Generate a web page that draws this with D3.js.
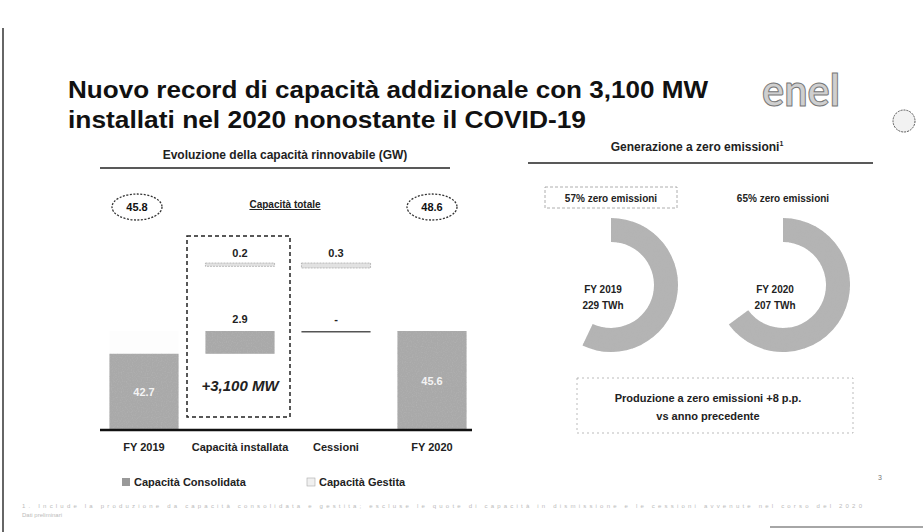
<!DOCTYPE html>
<html>
<head>
<meta charset="utf-8">
<script src="https://cdn.jsdelivr.net/npm/d3@7"></script>
<style>
  body { margin: 0; background: #fff; }
  svg { display: block; font-family: "Liberation Sans", Arial, sans-serif; }
</style>
</head>
<body>
<div id="slide"></div>
<script>
// ---- data ----
var steps = ["FY 2019", "Capacità installata", "Cessioni", "FY 2020"];
var consolidata = [42.7, 2.9, 0, 45.6];     // GW, waterfall on consolidated capacity
var gestita = [3.1, 0.2, -0.3, 3.0];        // GW, managed capacity
var totals = [45.8, 48.6];                  // total capacity FY 2019 / FY 2020
var genYears = ["FY 2019", "FY 2020"];
var genTwh = [229, 207];
var zeroShare = [57, 65];                   // % zero emission
var legendItems = ["Capacità Consolidata", "Capacità Gestita"];

var width = 923, height = 532;

var svg = d3.select("#slide").append("svg")
    .attr("width", width)
    .attr("height", height);

// scanner grain for the grey fills
var defs = svg.append("defs");
var f = defs.append("filter").attr("id", "grain").attr("x", 0).attr("y", 0).attr("width", 1).attr("height", 1);
f.append("feTurbulence").attr("type", "fractalNoise").attr("baseFrequency", 0.8).attr("numOctaves", 1).attr("result", "n");
f.append("feColorMatrix").attr("in", "n").attr("type", "matrix")
    .attr("values", "0 0 0 0 0.45  0 0 0 0 0.45  0 0 0 0 0.45  0 0 0 -2 1.1").attr("result", "g");
f.append("feComposite").attr("in", "g").attr("in2", "SourceGraphic").attr("operator", "in").attr("result", "gc");
f.append("feMerge").call(function (m) {
    m.append("feMergeNode").attr("in", "SourceGraphic");
    m.append("feMergeNode").attr("in", "gc");
});

/* ****** frame ****** */
svg.append("line").attr("x1", 3).attr("x2", 3).attr("y1", 28).attr("y2", 532)
    .attr("stroke", "#333").attr("stroke-width", 1.5);
svg.append("line").attr("x1", 770).attr("x2", 923).attr("y1", 527).attr("y2", 527)
    .attr("stroke", "#888").attr("stroke-width", 1.5);

/* ****** title ****** */
var title = ["Nuovo record di capacità addizionale con 3,100 MW",
             "installati nel 2020 nonostante il COVID-19"];
var titleLen = [640, 518];
title.forEach(function (t, i) {
    svg.append("text")
        .attr("x", 68).attr("y", 98 + i * 30)
        .attr("font-size", 23).attr("font-weight", "bold").attr("fill", "#111")
        .attr("textLength", titleLen[i]).attr("lengthAdjust", "spacingAndGlyphs")
        .text(t);
});

// enel logo + stamp
svg.append("text").attr("x", 762).attr("y", 106)
    .attr("font-size", 44).attr("font-family", "Lato, sans-serif").attr("font-weight", "bold")
    .attr("fill", "#cfcfcf").attr("stroke", "#777").attr("stroke-width", 1)
    .attr("textLength", 78).attr("lengthAdjust", "spacingAndGlyphs")
    .text("enel");
svg.append("circle").attr("cx", 904).attr("cy", 121).attr("r", 11)
    .attr("fill", "#f2f2f2").attr("stroke", "#555").attr("stroke-dasharray", "2,1");

/* ****** section headers ****** */
svg.append("text").attr("x", 285).attr("y", 159).attr("text-anchor", "middle")
    .attr("font-size", 12).attr("font-weight", "bold").attr("fill", "#222")
    .text("Evoluzione della capacità rinnovabile (GW)");
svg.append("line").attr("x1", 100).attr("x2", 450).attr("y1", 168).attr("y2", 168)
    .attr("stroke", "#222").attr("stroke-width", 1.5);

svg.append("text").attr("x", 697).attr("y", 151).attr("text-anchor", "middle")
    .attr("font-size", 12).attr("font-weight", "bold").attr("fill", "#222")
    .text("Generazione a zero emissioni")
    .append("tspan").attr("dy", -5).attr("font-size", 7).text("1");
svg.append("line").attr("x1", 528).attr("x2", 873).attr("y1", 163).attr("y2", 163)
    .attr("stroke", "#222").attr("stroke-width", 1.5);

/* ****** waterfall ****** */
var x = d3.scaleBand().domain(steps).range([96, 480]).paddingInner(0.28).paddingOuter(0.14);
var baseY = 430;
var yC = d3.scaleLinear().domain([33, 45.6]).range([baseY, 331]).clamp(true);   // truncated axis
var yG = d3.scaleLinear().domain([3.0, 3.3]).range([268, 263]);                  // managed-capacity row

// running levels
var consLevel = [], gestLevel = [];
var c = 0, g = 0;
steps.forEach(function (s, i) {
    if (i === 0 || i === steps.length - 1) {
        consLevel.push([0, consolidata[i]]);
        gestLevel.push([consolidata[i], consolidata[i] + gestita[i]]);
        c = consolidata[i]; g = gestita[i];
    } else {
        consLevel.push([c, c + consolidata[i]]);
        gestLevel.push([g, g + gestita[i]]);
        c += consolidata[i]; g += gestita[i];
    }
});

var chart = svg.append("g");

// FY bars: managed part (almost lost in the scan) then consolidated part
chart.selectAll(".gest-fy").data([0, 3]).enter().append("rect")
    .attr("x", function (i) { return x(steps[i]); })
    .attr("width", x.bandwidth())
    .attr("y", function (i) { return yC(gestLevel[i][1]); })
    .attr("height", function (i) { return yC(gestLevel[i][0]) - yC(gestLevel[i][1]); })
    .attr("fill", "#fdfdfd");

chart.selectAll(".cons").data(steps).enter().append("rect")
    .attr("x", function (d) { return x(d); })
    .attr("width", x.bandwidth())
    .attr("y", function (d, i) { return yC(d3.max(consLevel[i])); })
    .attr("height", function (d, i) { return Math.max(1.5, yC(d3.min(consLevel[i])) - yC(d3.max(consLevel[i]))); })
    .attr("fill", function (d, i) { return consolidata[i] === 0 ? "#555" : "#a9a9a9"; })
    .attr("filter", function (d, i) { return consolidata[i] === 0 ? null : "url(#grain)"; });

// labels of consolidated part
chart.selectAll(".cons-lab").data(steps).enter().append("text")
    .attr("x", function (d) { return x(d) + x.bandwidth() / 2; })
    .attr("y", function (d, i) {
        if (i === 0 || i === 3) return (yC(consolidata[i]) + baseY) / 2 + 4;
        return yC(d3.max(consLevel[i])) - 8;
    })
    .attr("text-anchor", "middle")
    .attr("font-size", 11).attr("font-weight", "bold")
    .attr("fill", function (d, i) { return (i === 0 || i === 3) ? "#f4f4f4" : "#222"; })
    .text(function (d, i) { return consolidata[i] === 0 ? "-" : d3.format(".1f")(consolidata[i]); });

// managed-capacity movements
chart.selectAll(".gest").data([1, 2]).enter().append("rect")
    .attr("x", function (i) { return x(steps[i]); })
    .attr("width", x.bandwidth())
    .attr("y", function (i) { return yG(d3.max(gestLevel[i])); })
    .attr("height", function (i) { return yG(d3.min(gestLevel[i])) - yG(d3.max(gestLevel[i])); })
    .attr("fill", "#e2e2e2").attr("stroke", "#999").attr("stroke-width", 0.6)
    .attr("stroke-dasharray", "2,1");
chart.selectAll(".gest-lab").data([1, 2]).enter().append("text")
    .attr("x", function (i) { return x(steps[i]) + x.bandwidth() / 2; })
    .attr("y", function (i) { return yG(d3.max(gestLevel[i])) - 6; })
    .attr("text-anchor", "middle").attr("font-size", 11).attr("font-weight", "bold").attr("fill", "#222")
    .text(function (i) { return d3.format(".1f")(Math.abs(gestita[i])); });

// axis
chart.append("line").attr("x1", 100).attr("x2", 472).attr("y1", baseY).attr("y2", baseY)
    .attr("stroke", "#111").attr("stroke-width", 2.5);
chart.selectAll(".cat").data(steps).enter().append("text")
    .attr("x", function (d) { return x(d) + x.bandwidth() / 2; })
    .attr("y", 451).attr("text-anchor", "middle")
    .attr("font-size", 11).attr("font-weight", "bold").attr("fill", "#222")
    .text(function (d) { return d; });

// total capacity ellipses
var totX = [x(steps[0]) + x.bandwidth() / 2 - 7, x(steps[3]) + x.bandwidth() / 2];
totals.forEach(function (t, i) {
    chart.append("ellipse").attr("cx", totX[i]).attr("cy", 207).attr("rx", 25).attr("ry", 13)
        .attr("fill", "none").attr("stroke", "#333").attr("stroke-width", 1.3).attr("stroke-dasharray", "2,1.5");
    chart.append("text").attr("x", totX[i]).attr("y", 211).attr("text-anchor", "middle")
        .attr("font-size", 11).attr("font-weight", "bold").attr("fill", "#111")
        .text(d3.format(".1f")(t));
});
chart.append("text").attr("x", 285).attr("y", 208).attr("text-anchor", "middle")
    .attr("font-size", 10).attr("font-weight", "bold").attr("fill", "#222").attr("text-decoration", "underline")
    .text("Capacità totale");

// dashed box around installed capacity
chart.append("rect").attr("x", 187).attr("y", 236).attr("width", 103).attr("height", 181)
    .attr("fill", "none").attr("stroke", "#222").attr("stroke-width", 1.5).attr("stroke-dasharray", "4,3");
chart.append("text").attr("x", 240).attr("y", 391).attr("text-anchor", "middle")
    .attr("font-size", 15).attr("font-style", "italic").attr("font-weight", "bold").attr("fill", "#222")
    .text("+3,100 MW");

// legend
var legX = [122, 307];
legendItems.forEach(function (l, i) {
    svg.append("rect").attr("x", legX[i]).attr("y", 478).attr("width", 8).attr("height", 8)
        .attr("fill", i === 0 ? "#999" : "#f0f0f0").attr("stroke", i === 0 ? "none" : "#aaa")
        .attr("stroke-width", 0.6);
    svg.append("text").attr("x", legX[i] + 12).attr("y", 486)
        .attr("font-size", 11).attr("font-weight", "bold").attr("fill", "#222").text(l);
});

/* ****** donuts ****** */
var pie = d3.pie().sort(null).value(function (d) { return d; });
var arc = d3.arc().innerRadius(43).outerRadius(67);
var donutX = [611, 783], donutY = 285;
genYears.forEach(function (yr, i) {
    var gd = svg.append("g").attr("transform", "translate(" + donutX[i] + "," + donutY + ")");
    gd.selectAll("path").data(pie([zeroShare[i], 100 - zeroShare[i]])).enter().append("path")
        .attr("d", arc)
        .attr("fill", function (d, j) { return j === 0 ? "#b4b4b4" : "none"; })
        .attr("filter", function (d, j) { return j === 0 ? "url(#grain)" : null; });
    gd.append("text").attr("x", -8).attr("y", 8).attr("text-anchor", "middle")
        .attr("font-size", 10).attr("font-weight", "bold").attr("fill", "#222").text(yr);
    gd.append("text").attr("x", -8).attr("y", 24).attr("text-anchor", "middle")
        .attr("font-size", 10).attr("font-weight", "bold").attr("fill", "#222").text(genTwh[i] + " TWh");
    svg.append("text").attr("x", donutX[i]).attr("y", 202).attr("text-anchor", "middle")
        .attr("font-size", 10).attr("font-weight", "bold").attr("fill", "#222")
        .text(zeroShare[i] + "% zero emissioni");
});
svg.append("rect").attr("x", 545).attr("y", 187).attr("width", 132).attr("height", 21)
    .attr("fill", "none").attr("stroke", "#999").attr("stroke-width", 0.8).attr("stroke-dasharray", "3,2");

// note box
svg.append("rect").attr("x", 577).attr("y", 378).attr("width", 276).attr("height", 55)
    .attr("fill", "none").attr("stroke", "#aaa").attr("stroke-width", 0.8).attr("stroke-dasharray", "2,3");
svg.append("text").attr("x", 708).attr("y", 402).attr("text-anchor", "middle")
    .attr("font-size", 11).attr("font-weight", "bold").attr("fill", "#222")
    .text("Produzione a zero emissioni +" + (zeroShare[1] - zeroShare[0]) + " p.p.");
svg.append("text").attr("x", 708).attr("y", 420).attr("text-anchor", "middle")
    .attr("font-size", 11).attr("font-weight", "bold").attr("fill", "#222")
    .text("vs anno precedente");

/* ****** footnote + page ****** */
svg.append("text").attr("x", 22).attr("y", 508).attr("font-size", 6).attr("fill", "#bbb")
    .attr("textLength", 840).attr("lengthAdjust", "spacing")
    .text("1. Include la produzione da capacità consolidata e gestita; escluse le quote di capacità in dismissione e le cessioni avvenute nel corso del 2020");
svg.append("text").attr("x", 22).attr("y", 517).attr("font-size", 6).attr("fill", "#bbb")
    .text("Dati preliminari");
svg.append("text").attr("x", 878).attr("y", 480).attr("font-size", 7).attr("fill", "#777").text("3");
</script>
</body>
</html>
